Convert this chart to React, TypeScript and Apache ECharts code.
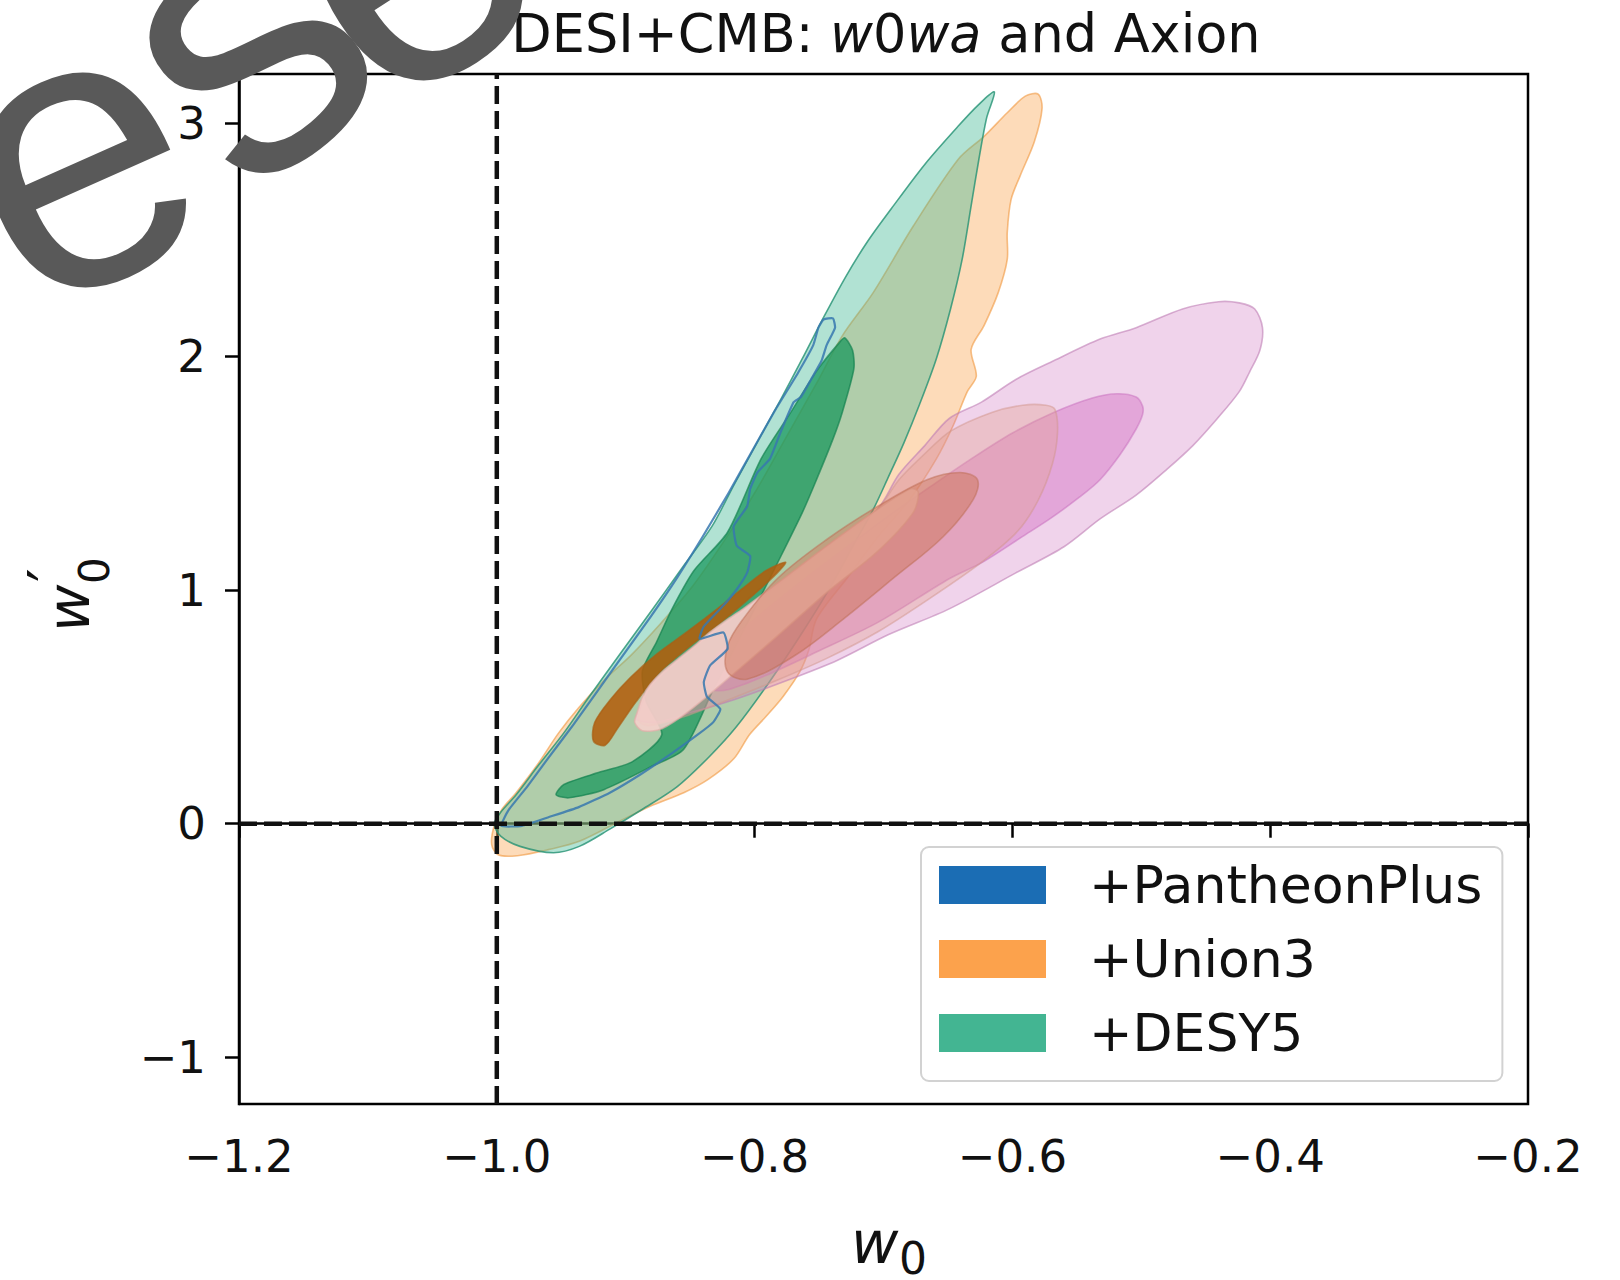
import React, { useEffect, useRef } from "react";
import * as echarts from "echarts";

// ---- axes ----
const xTicks = [-1.2, -1.0, -0.8, -0.6, -0.4, -0.2];
const yTicks = [-1, 0, 1, 2, 3];
const xLimits = [-1.2, -0.2];
const yLimits = [-1.2, 3.21];
const refW0 = -1.0;
const refW0prime = 0.0;

const legendNames = ["+PantheonPlus", "+Union3", "+DESY5"];

// ---- contours, [w0, w0'] ----
const union3Outer = [
  [-0.580, 3.124], [-0.577, 3.062], [-0.583, 2.920], [-0.594, 2.774], [-0.601, 2.673],
  [-0.604, 2.531], [-0.604, 2.416], [-0.611, 2.274], [-0.622, 2.133], [-0.632, 2.031],
  [-0.628, 1.916], [-0.635, 1.850], [-0.646, 1.704], [-0.659, 1.562], [-0.680, 1.385],
  [-0.704, 1.230], [-0.728, 1.053], [-0.752, 0.876], [-0.758, 0.743], [-0.765, 0.650],
  [-0.778, 0.544], [-0.791, 0.460], [-0.804, 0.381], [-0.816, 0.279], [-0.836, 0.190],
  [-0.855, 0.133], [-0.881, 0.075], [-0.904, 0.013], [-0.936, -0.075], [-0.960, -0.111],
  [-0.984, -0.137], [-0.999, -0.133], [-1.004, -0.088], [-1.002, -0.009], [-0.996, 0.062],
  [-0.985, 0.133], [-0.968, 0.257], [-0.952, 0.389], [-0.936, 0.500], [-0.916, 0.619],
  [-0.896, 0.721], [-0.872, 0.863], [-0.848, 1.018], [-0.824, 1.208], [-0.800, 1.416],
  [-0.776, 1.650], [-0.752, 1.885], [-0.732, 2.089], [-0.708, 2.274], [-0.677, 2.558],
  [-0.642, 2.845], [-0.622, 2.943], [-0.604, 3.044], [-0.590, 3.115],
];

const union3Inner = [
  [-0.925, 0.354], [-0.924, 0.434], [-0.912, 0.531], [-0.896, 0.628], [-0.876, 0.726],
  [-0.852, 0.823], [-0.829, 0.920], [-0.809, 1.009], [-0.791, 1.084], [-0.776, 1.119],
  [-0.783, 1.071], [-0.804, 0.965], [-0.828, 0.854], [-0.852, 0.752], [-0.874, 0.646],
  [-0.892, 0.522], [-0.906, 0.411], [-0.916, 0.336],
];

const desy5Outer = [
  [-0.614, 3.133], [-0.620, 3.022], [-0.626, 2.845], [-0.632, 2.646], [-0.639, 2.416],
  [-0.648, 2.204], [-0.659, 1.991], [-0.672, 1.796], [-0.684, 1.633], [-0.696, 1.487],
  [-0.708, 1.345], [-0.724, 1.186], [-0.744, 0.987], [-0.764, 0.810], [-0.788, 0.611],
  [-0.814, 0.416], [-0.835, 0.288], [-0.860, 0.159], [-0.887, 0.062], [-0.912, -0.022],
  [-0.936, -0.097], [-0.956, -0.124], [-0.982, -0.097], [-0.997, -0.053], [-1.002, 0.0],
  [-0.997, 0.049], [-0.985, 0.124], [-0.968, 0.248], [-0.948, 0.389], [-0.930, 0.531],
  [-0.904, 0.730], [-0.880, 0.912], [-0.856, 1.097], [-0.833, 1.274], [-0.816, 1.451],
  [-0.798, 1.633], [-0.780, 1.814], [-0.763, 1.991], [-0.746, 2.173], [-0.729, 2.345],
  [-0.712, 2.496], [-0.694, 2.633], [-0.668, 2.823], [-0.642, 2.987], [-0.626, 3.080],
];

const desy5Inner = [
  [-0.730, 2.080], [-0.724, 2.027], [-0.723, 1.947], [-0.732, 1.761], [-0.739, 1.650],
  [-0.752, 1.473], [-0.763, 1.332], [-0.784, 1.097], [-0.808, 0.832], [-0.832, 0.575],
  [-0.855, 0.319], [-0.879, 0.248], [-0.917, 0.146], [-0.944, 0.111], [-0.954, 0.124],
  [-0.948, 0.168], [-0.920, 0.221], [-0.895, 0.265], [-0.872, 0.381], [-0.884, 0.522],
  [-0.887, 0.655], [-0.876, 0.779], [-0.864, 0.920], [-0.847, 1.084], [-0.821, 1.248],
  [-0.795, 1.562], [-0.772, 1.761], [-0.752, 1.938], [-0.734, 2.062],
];

const pantheonLoop = [
  [-0.9965, -0.009], [-0.9909, 0.058], [-0.9764, 0.159], [-0.9604, 0.279], [-0.9404, 0.425],
  [-0.9204, 0.580], [-0.9003, 0.735], [-0.8803, 0.889], [-0.8602, 1.053], [-0.8402, 1.230],
  [-0.8202, 1.416], [-0.8018, 1.597], [-0.7841, 1.770], [-0.7665, 1.929], [-0.7545, 2.049],
  [-0.7505, 2.124], [-0.7465, 2.159], [-0.7392, 2.164], [-0.7376, 2.124], [-0.7441, 2.049],
  [-0.7481, 1.982], [-0.7561, 1.903], [-0.7641, 1.827], [-0.7697, 1.805], [-0.7801, 1.673],
  [-0.7881, 1.562], [-0.7978, 1.504], [-0.8034, 1.434], [-0.8058, 1.358], [-0.8162, 1.274],
  [-0.8138, 1.190], [-0.8034, 1.146], [-0.8058, 1.075], [-0.8138, 1.004], [-0.8242, 0.934],
  [-0.8394, 0.845], [-0.8426, 0.792], [-0.8242, 0.819], [-0.8210, 0.748], [-0.8346, 0.677],
  [-0.8394, 0.606], [-0.8370, 0.544], [-0.8266, 0.491], [-0.8322, 0.434], [-0.8442, 0.381],
  [-0.8643, 0.301], [-0.8883, 0.212], [-0.9123, 0.133], [-0.9364, 0.071], [-0.9604, 0.027],
  [-0.9805, -0.009],
];

const axionOuter = [
  [-0.406, 2.124], [-0.412, 2.204], [-0.424, 2.230], [-0.440, 2.235], [-0.468, 2.204],
  [-0.504, 2.124], [-0.532, 2.075], [-0.568, 1.982], [-0.597, 1.903], [-0.624, 1.805],
  [-0.649, 1.735], [-0.668, 1.619], [-0.688, 1.496], [-0.705, 1.345], [-0.744, 1.186],
  [-0.783, 1.018], [-0.809, 0.912], [-0.835, 0.810], [-0.860, 0.695], [-0.881, 0.588],
  [-0.890, 0.478], [-0.892, 0.447], [-0.876, 0.434], [-0.848, 0.478], [-0.816, 0.531],
  [-0.776, 0.611], [-0.736, 0.699], [-0.696, 0.810], [-0.649, 0.920], [-0.597, 1.075],
  [-0.560, 1.186], [-0.532, 1.305], [-0.504, 1.407], [-0.480, 1.518], [-0.460, 1.619],
  [-0.441, 1.735], [-0.424, 1.850], [-0.416, 1.934], [-0.408, 2.027],
];

const axionInner = [
  [-0.499, 1.788], [-0.504, 1.827], [-0.519, 1.841], [-0.538, 1.823], [-0.568, 1.761],
  [-0.600, 1.673], [-0.632, 1.562], [-0.664, 1.442], [-0.696, 1.319], [-0.728, 1.186],
  [-0.760, 1.053], [-0.792, 0.912], [-0.816, 0.797], [-0.832, 0.699], [-0.840, 0.619],
  [-0.834, 0.575], [-0.820, 0.575], [-0.792, 0.633], [-0.752, 0.735], [-0.704, 0.863],
  [-0.649, 1.049], [-0.623, 1.120], [-0.592, 1.230], [-0.571, 1.305], [-0.548, 1.398],
  [-0.532, 1.473], [-0.516, 1.584], [-0.504, 1.690], [-0.499, 1.752],
];

const axion2Outer = [
  [-0.567, 1.774], [-0.574, 1.792], [-0.592, 1.792], [-0.616, 1.761], [-0.648, 1.681],
  [-0.668, 1.584], [-0.688, 1.473], [-0.705, 1.345], [-0.744, 1.186], [-0.783, 1.018],
  [-0.809, 0.912], [-0.835, 0.810], [-0.860, 0.695], [-0.881, 0.588], [-0.890, 0.478],
  [-0.889, 0.434], [-0.882, 0.420], [-0.856, 0.456], [-0.824, 0.522], [-0.784, 0.611],
  [-0.744, 0.708], [-0.704, 0.823], [-0.664, 0.965], [-0.624, 1.119], [-0.596, 1.252],
  [-0.580, 1.385], [-0.569, 1.540], [-0.565, 1.673],
];

const axion2InnerA = [
  [-0.893, 0.434], [-0.891, 0.478], [-0.887, 0.544], [-0.881, 0.597], [-0.871, 0.655],
  [-0.860, 0.704], [-0.847, 0.761], [-0.835, 0.819], [-0.822, 0.872], [-0.809, 0.920],
  [-0.783, 1.027], [-0.744, 1.190], [-0.705, 1.345], [-0.679, 1.434], [-0.673, 1.420],
  [-0.677, 1.332], [-0.705, 1.164], [-0.744, 0.991], [-0.783, 0.801], [-0.821, 0.620],
  [-0.852, 0.478], [-0.872, 0.407], [-0.887, 0.398],
];

const axion2InnerB = [
  [-0.6271, 1.473], [-0.6407, 1.504], [-0.6663, 1.473], [-0.7048, 1.358], [-0.7441, 1.217],
  [-0.7825, 1.049], [-0.8090, 0.876], [-0.8210, 0.761], [-0.8210, 0.650], [-0.8058, 0.619],
  [-0.7697, 0.717], [-0.7312, 0.876], [-0.6928, 1.049], [-0.6535, 1.230], [-0.6303, 1.389],
];

// ---- drawing table (styles kept here, not in the data) ----
const layers = [
  { name: "+Union3", pts: union3Outer, fill: "rgba(250,165,80,0.40)", stroke: "rgba(240,150,60,0.6)", smooth: 0.3 },
  { name: "+DESY5", pts: desy5Outer, fill: "rgba(70,185,150,0.42)", stroke: "rgba(35,145,115,0.8)", smooth: 0.3 },
  { name: "+DESY5", pts: desy5Inner, fill: "rgba(20,150,90,0.72)", stroke: "rgba(20,130,80,0.7)", smooth: 0.25 },
  { name: "Axion", pts: axionOuter, fill: "rgba(210,120,195,0.33)", stroke: "rgba(190,125,180,0.6)", smooth: 0.3 },
  { name: "Axion", pts: axionInner, fill: "rgba(210,110,195,0.45)", stroke: "rgba(200,110,190,0.5)", smooth: 0.3 },
  { name: "Axion", pts: axion2Outer, fill: "rgba(225,160,140,0.35)", stroke: "rgba(210,150,140,0.5)", smooth: 0.3 },
  { name: "+Union3", pts: union3Inner, fill: "rgba(178,95,12,0.88)", stroke: "rgba(170,95,20,0.7)", smooth: 0.3 },
  { name: "Axion", pts: axion2InnerA, fill: "rgba(246,208,204,0.88)", stroke: "rgba(225,175,170,0.7)", smooth: 0.3 },
  { name: "Axion", pts: axion2InnerB, fill: "rgba(205,115,85,0.5)", stroke: "rgba(190,110,85,0.5)", smooth: 0.35 },
  { name: "+PantheonPlus", pts: pantheonLoop, fill: "none", stroke: "rgba(55,120,175,0.85)", smooth: 0.15 },
];

const legendColors = ["#1b6db4", "#fca24c", "#43b592"];

const minus = (v: number, d: number) => (v < 0 ? "\u2212" : "") + Math.abs(v).toFixed(d);

export default function App() {
  const ref = useRef<HTMLDivElement>(null);
  useEffect(() => {
    if (!ref.current) return;
    const chart = echarts.init(ref.current, undefined, { renderer: "svg" });
    const font = "DejaVu Sans";

    const contourSeries = layers.map((layer) => ({
      type: "custom",
      name: layer.name,
      coordinateSystem: "cartesian2d",
      silent: true,
      clip: true,
      z: 2,
      data: [[layer.pts[0][0], layer.pts[0][1]]],
      renderItem: (_params: any, api: any) => ({
        type: "polygon",
        shape: { points: layer.pts.map((p) => api.coord(p)), smooth: layer.smooth },
        style: { fill: layer.fill, stroke: layer.stroke, lineWidth: layer.name === "+PantheonPlus" ? 2.2 : 1.6 },
      }),
    }));

    const dashStyle = { color: "#111", width: 4.5, type: [18, 7] };

    const option: any = {
      animation: false,
      backgroundColor: "#ffffff",
      textStyle: { fontFamily: font },
      grid: { left: 239, right: 92, top: 74, bottom: 176, show: true, borderColor: "#000", borderWidth: 2.5, backgroundColor: "transparent" },
      xAxis: {
        type: "value",
        min: xLimits[0],
        max: xLimits[1],
        axisLine: { show: true, lineStyle: { color: "#000", width: 2.5 } },
        axisTick: { show: true, length: 14, lineStyle: { color: "#000", width: 2.5 }, customValues: xTicks },
        axisLabel: { customValues: xTicks, formatter: (v: number) => minus(v, 1), fontSize: 45, color: "#111", margin: 30, fontFamily: font },
        splitLine: { show: false },
      },
      yAxis: {
        type: "value",
        min: yLimits[0],
        max: yLimits[1],
        axisLine: { show: true, lineStyle: { color: "#000", width: 2.5 } },
        axisTick: { show: true, length: 14, lineStyle: { color: "#000", width: 2.5 }, customValues: yTicks },
        axisLabel: { customValues: yTicks, formatter: (v: number) => minus(v, 0), fontSize: 45, color: "#111", margin: 33, fontFamily: font },
        splitLine: { show: false },
      },
      legend: {
        orient: "vertical",
        left: 921,
        top: 847,
        data: legendNames.map((n, i) => ({ name: n, icon: "rect", itemStyle: { color: legendColors[i], borderWidth: 0 } })),
        itemWidth: 107,
        itemHeight: 38,
        itemGap: 22,
        padding: [12, 20, 22, 18],
        backgroundColor: "rgba(255,255,255,0.85)",
        borderColor: "#d2d2d2",
        borderWidth: 2,
        borderRadius: 8,
        selectedMode: false,
        textStyle: { fontSize: 52, color: "#111", fontFamily: font, padding: [0, 0, 0, 38], lineHeight: 38 },
      },
      series: [
        ...contourSeries,
        {
          type: "line",
          name: "vline",
          data: [[refW0, yLimits[0]], [refW0, yLimits[1]]],
          showSymbol: false,
          silent: true,
          z: 10,
          lineStyle: dashStyle,
        },
        {
          type: "line",
          name: "hline",
          data: [[xLimits[0], refW0prime], [xLimits[1], refW0prime]],
          showSymbol: false,
          silent: true,
          z: 10,
          lineStyle: dashStyle,
        },
      ],
      graphic: [
        {
          type: "text",
          x: 886,
          y: 33,
          z: 50,
          style: {
            text: "{n|DESI+CMB: }{i|w}{n|0}{i|wa}{n| and Axion}",
            align: "center",
            verticalAlign: "middle",
            rich: {
              n: { fontSize: 52.5, fontFamily: font, fill: "#111" },
              i: { fontSize: 52.5, fontFamily: font, fontStyle: "italic", fill: "#111" },
            },
          },
        },
        // x axis title w0
        { type: "text", x: 851, y: 1243, z: 50, style: { text: "w", fontSize: 58, fontStyle: "italic", fontFamily: font, fill: "#111", align: "left", verticalAlign: "middle" } },
        { type: "text", x: 899, y: 1258, z: 50, style: { text: "0", fontSize: 44, fontFamily: font, fill: "#111", align: "left", verticalAlign: "middle" } },
        // y axis title w0'
        {
          type: "group",
          x: 74,
          y: 596,
          rotation: Math.PI / 2,
          z: 50,
          children: [
            { type: "text", x: -36, y: -5, style: { text: "w", fontSize: 58, fontStyle: "italic", fontFamily: font, fill: "#111", align: "left", verticalAlign: "middle" } },
            { type: "text", x: 14, y: -24, style: { text: "\u2032", fontSize: 60, fontFamily: font, fill: "#111", align: "left", verticalAlign: "middle" } },
            { type: "text", x: 12, y: 20, style: { text: "0", fontSize: 42, fontFamily: font, fill: "#111", align: "left", verticalAlign: "middle" } },
          ],
        },
        // overlay lettering seen in the top-left of the picture
        { type: "text", x: 71, y: 151, rotation: (24 * Math.PI) / 180, z: 100, style: { text: "e", fontSize: 390, fontFamily: "Liberation Sans", fill: "#595959", align: "center", verticalAlign: "middle" } },
        { type: "text", x: 236, y: 34, rotation: (40 * Math.PI) / 180, z: 100, style: { text: "s", fontSize: 400, fontFamily: "Liberation Sans", fill: "#595959", align: "center", verticalAlign: "middle" } },
        { type: "text", x: 400, y: -53, rotation: (33 * Math.PI) / 180, z: 100, style: { text: "e", fontSize: 390, fontFamily: "Liberation Sans", fill: "#595959", align: "center", verticalAlign: "middle" } },
      ],
    };

    chart.setOption(option);
    return () => chart.dispose();
  }, []);

  return (
    <div
      ref={ref}
      style={{ position: "fixed", left: 0, top: 0, width: 1620, height: 1280, background: "#fff" }}
    />
  );
}
